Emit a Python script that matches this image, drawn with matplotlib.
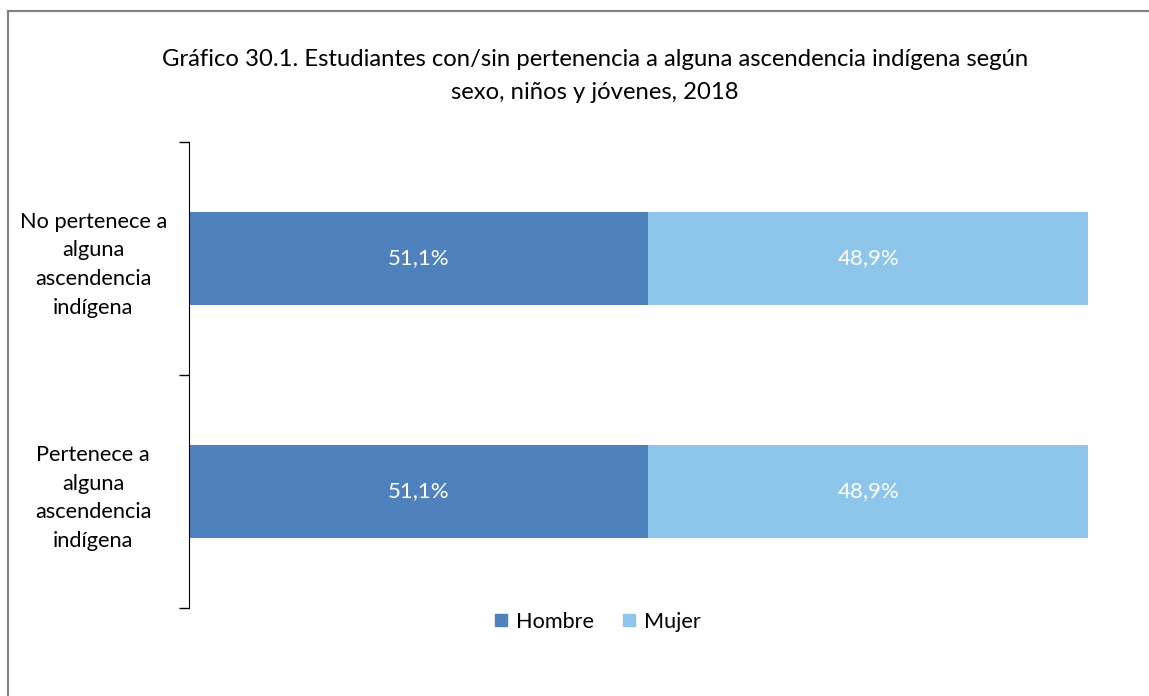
import matplotlib.pyplot as plt
from matplotlib.lines import Line2D

categories = ["No pertenece a\nalguna\nascendencia\nindígena",
              "Pertenece a\nalguna\nascendencia\nindígena"]
hombre = [51.1, 51.1]
mujer = [48.9, 48.9]
series_names = ["Hombre", "Mujer"]
colors = ["#4F81BD", "#8EC5EA"]

plt.rcParams['font.family'] = ['Lato', 'DejaVu Sans']

fig = plt.figure(figsize=(11.49, 6.96), dpi=100)
ax = fig.add_axes([189 / 1149, 1 - 608 / 696, (1088 - 189) / 1149, (608 - 142) / 696])

y = list(range(len(categories)))
ax.barh(y, hombre, height=0.4, color=colors[0], label=series_names[0])
ax.barh(y, mujer, left=hombre, height=0.4, color=colors[1], label=series_names[1])

# value labels inside segments
for i in y:
    ax.text(hombre[i] / 2, i, f"{hombre[i]:.1f}%".replace(".", ","),
            ha="center", va="center", color="white", fontsize=16)
    ax.text(hombre[i] + mujer[i] / 2, i, f"{mujer[i]:.1f}%".replace(".", ","),
            ha="center", va="center", color="white", fontsize=16)

ax.set_xlim(0, 100)
ax.set_ylim(len(categories) - 0.5, -0.5)
ax.set_xticks([])
ax.set_yticks(y)
ax.set_yticklabels(categories, fontsize=15.7, ha="center", multialignment="center",
                   linespacing=1.55)
ax.tick_params(axis="y", which="major", length=0, pad=69)
ax.set_yticks([-0.5, 0.5, 1.5], minor=True)
ax.tick_params(axis="y", which="minor", length=7, width=1, color="black")
for s in ["top", "right", "bottom"]:
    ax.spines[s].set_visible(False)
ax.spines["left"].set_color("black")

fig.text(595 / 1149, 1 - 76 / 696,
         "Gráfico 30.1. Estudiantes con/sin pertenencia a alguna ascendencia indígena según\nsexo, niños y jóvenes, 2018",
         ha="center", va="center", fontsize=17.2, linespacing=1.65)

handles = [Line2D([], [], marker="s", linestyle="none", markersize=9, color=c) for c in colors]
fig.legend(handles, series_names, loc="center", bbox_to_anchor=(593 / 1149, 1 - 622 / 696),
           ncol=2, frameon=False, fontsize=15.6, handletextpad=-0.05, columnspacing=0.85,
           handlelength=1.5)

# outer frame (top and left edges)
fig.add_artist(Line2D([8 / 1149, 1], [1 - 11 / 696, 1 - 11 / 696], color="#808080", lw=1.5))
fig.add_artist(Line2D([8 / 1149, 8 / 1149], [0, 1 - 11 / 696], color="#808080", lw=1.5))

fig.savefig("out.png", dpi=100)
